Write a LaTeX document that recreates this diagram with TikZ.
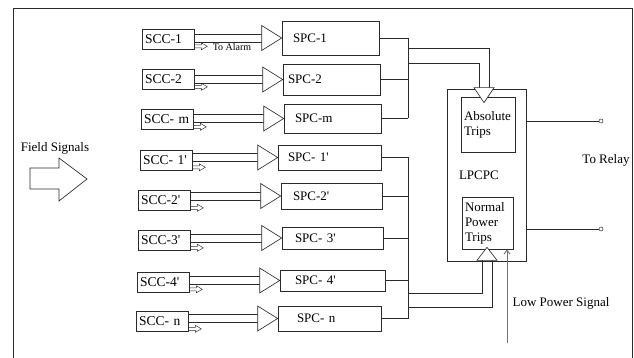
\documentclass[tikz,border=0pt]{standalone}
\usepackage{fontspec}
\setmainfont{Liberation Serif}[Ligatures=TeXOff]
\usetikzlibrary{calc,arrows.meta}
\definecolor{ink}{HTML}{2A2A2A}
\definecolor{signal}{HTML}{707070}

\tikzset{
  wire/.style={draw=ink, line width=0.65pt},
  thinwire/.style={draw=ink, line width=0.45pt},
  sccbox/.style={draw=ink, line width=0.65pt, minimum width=52pt, minimum height=20pt,
    text width=46pt, inner xsep=3pt, inner ysep=0pt, align=left,
    font=\fontsize{13.5}{15}\selectfont},
  spcbox/.style={draw=ink, line width=0.65pt, inner ysep=0pt, align=left},
  tripbox/.style={draw=ink, line width=0.65pt, inner ysep=0pt, align=left},
  relaypin/.style={draw=ink, line width=0.5pt, circle, inner sep=0pt, minimum size=4pt}
}

\begin{document}
\begin{tikzpicture}[x=1pt,y=-1pt,font=\fontsize{13}{15}\selectfont]
  \useasboundingbox (0,0) rectangle (634,358);

  % outer frame (bottom edge is cut off)
  \draw[ink, line width=0.7pt] (13,358) -- (13,8) -- (632,8) -- (632,358);

  % field signals input
  \node (field) at (55,148) {Field Signals};
  \draw[wire] (30,168) -- (59,168) -- (59,158) -- (87,179) -- (59,201) -- (59,189) -- (30,189) -- cycle;

  % SCC -> SPC channels
  \foreach \i/\sa/\sb/\ax/\ay/\bx/\by/\bw/\bh/\bp in {
      1/SCC-1/SPC-1/168/39/330.5/38/97/34/11,
      2/SCC-2/SPC-2/168/79.5/331.5/79.5/97/31/5,
      3/SCC- m/SPC-m/167/119.5/332.5/118.5/97/29/11,
      4/SCC- 1'/SPC- 1'/166/160/329.5/157.5/103/25/10,
      5/SCC-2'/SPC-2'/164/200.5/331.5/196/101/26/12,
      6/SCC-3'/SPC-  3'/164/240.5/332.5/238/101/22/13,
      7/SCC-4'/SPC- 4'/163/282/332.5/280.5/105/21/15,
      8/SCC- n/SPC- n/162/321.5/329.5/318.5/103/25/19} {
    \pgfmathsetmacro\tw{\bw-2*\bp}
    \node[sccbox] (scc\i) at (\ax,\ay) {\sa};
    \node[spcbox, minimum width=\bw pt, minimum height=\bh pt, text width=\tw pt, inner xsep=\bp pt] (spc\i) at (\bx,\by) {\sb};
    % hollow block arrow
    \draw[wire] ($(scc\i.east |- spc\i.west)+(0,-4)$) -- ($(spc\i.west)+(-20,-4)$);
    \draw[wire] ($(scc\i.east |- spc\i.west)+(0,4)$) -- ($(spc\i.west)+(-20,4)$);
    \draw[wire, fill=white] (spc\i.west) -- ++(-20,-12.5) -- ++(0,25) -- cycle;
    % small side output
    \draw[thinwire] ($(scc\i.south east)+(0,-4.5)$) -- ++(7,0) -- ++(0,-2) -- ++(6,3.5) -- ++(-6,3.5) -- ++(0,-2) -- ++(-7,0);
  }
  \node[font=\fontsize{10}{12}\selectfont] (alarm) at (232,47) {To Alarm};

  % LPCPC with its two trip units
  \node[draw=ink, line width=0.65pt, minimum width=79pt, minimum height=172pt, text width=55pt,
    inner xsep=12pt, align=left] (lpcpc) at (486.5,175) {LPCPC};
  \node[tripbox, minimum width=54pt, minimum height=55pt, text width=48pt, inner xsep=3pt] (abs) at (488,124.5) {Absolute\\Trips};
  \node[tripbox, minimum width=51pt, minimum height=52pt, text width=45pt, inner xsep=3pt] (npt) at (487.5,223) {Normal\\Power\\Trips};

  % upper bus
  \coordinate (busA) at (408,0);
  \foreach \i in {1,2,3}
    \draw[wire] (spc\i.east) -- (spc\i.east -| busA);
  \draw[wire] (spc1.east -| busA) -- (spc3.east -| busA);
  \coordinate (jA1) at (408,48);
  \coordinate (jA2) at (408,63);
  \coordinate (tA) at ($(abs.north)+(-4,6)$);
  \draw[wire] (jA1) -| ($(tA |- lpcpc.north)+(5,0)$);
  \draw[wire] (jA2) -| ($(tA |- lpcpc.north)+(-5,0)$);
  \draw[wire, fill=white] (tA) -- ++(-10,-15) -- ++(20,0) -- cycle;

  % lower bus
  \coordinate (busB) at (408,0);
  \foreach \i in {4,...,8}
    \draw[wire] (spc\i.east) -- (spc\i.east -| busB);
  \draw[wire] (spc4.east -| busB) -- (spc8.east -| busB);
  \coordinate (jB1) at (408,293);
  \coordinate (jB2) at (408,307);
  \coordinate (tB) at ($(npt.south)+(-0.5,-2)$);
  \draw[wire] (jB1) -| ($(tB)+(-5,13)$);
  \draw[wire] (jB2) -| ($(tB)+(5,13)$);
  \draw[wire, fill=white] (tB) -- ++(-10,13) -- ++(20,0) -- cycle;

  % low power signal
  \coordinate (lps) at (507,343);
  \draw[signal, line width=0.9pt, -{Straight Barb[length=4pt,width=6pt]}] (lps) -- (lps |- npt.south);
  \node (lpstext) at (561,303) {Low Power Signal};

  % relay outputs
  \node[relaypin] (o1) at (601,121) {};
  \node[relaypin] (o2) at (601,229) {};
  \draw[wire] (o1 -| lpcpc.east) -- (o1.west);
  \draw[wire] (o2 -| lpcpc.east) -- (o2.west);
  \node (relay) at (606,160) {To Relay};
\end{tikzpicture}
\end{document}
